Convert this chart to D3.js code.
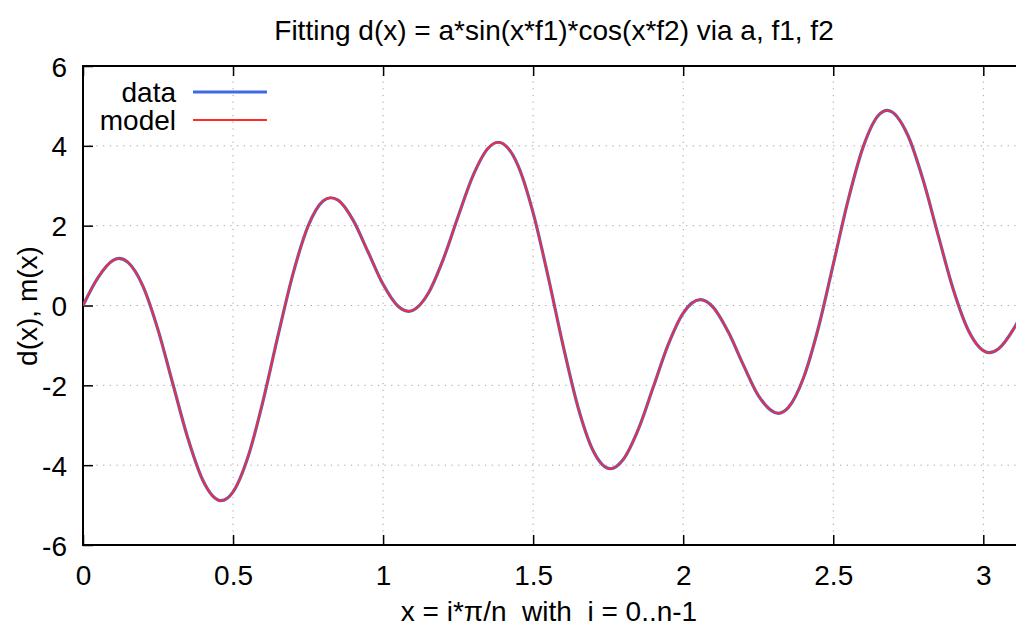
<!DOCTYPE html>
<html>
<head>
<meta charset="utf-8">
<script src="https://cdn.jsdelivr.net/npm/d3@7"></script>
<style>
  body { margin: 0; background: #fff; }
  svg { display: block; font-family: "Liberation Sans", Arial, Helvetica, sans-serif; }
</style>
</head>
<body>
<div id="chart"></div>
<script>
var xValues = [0, 0.05, 0.10, 0.12, 0.15, 0.20, 0.25, 0.30, 0.35, 0.40, 0.46, 0.50,
  0.55, 0.60, 0.65, 0.70, 0.75, 0.80, 0.825, 0.85, 0.90, 0.95, 1.00, 1.05, 1.085,
  1.15, 1.20, 1.25, 1.30, 1.35, 1.383, 1.45, 1.50, 1.55, 1.60, 1.65, 1.70, 1.758,
  1.80, 1.85, 1.90, 1.95, 2.00, 2.057, 2.10, 2.15, 2.20, 2.25, 2.317, 2.35, 2.40,
  2.45, 2.50, 2.55, 2.60, 2.65, 2.68, 2.75, 2.80, 2.85, 2.90, 2.95, 3.02,
  3.05, 3.10, 3.1416];

var dataValues = [0, 0.70, 1.13, 1.18, 1.08, 0.48, -0.61, -1.98, -3.34, -4.39, -4.89, -4.67,
  -3.79, -2.39, -0.75, 0.80, 1.99, 2.62, 2.70, 2.64, 2.14, 1.34, 0.53, -0.02, -0.145,
  0.30, 1.15, 2.23, 3.26, 3.94, 4.09, 3.50, 2.32, 0.72, -1.01, -2.56, -3.64, -4.09,
  -3.86, -3.11, -2.05, -0.98, -0.19, 0.145, -0.045, -0.66, -1.48, -2.25, -2.70, -2.56, -1.83,
  -0.57, 1.03, 2.65, 3.98, 4.76, 4.89, 4.24, 3.13, 1.75, 0.40, -0.62, -1.18,
  -1.09, -0.60, 0];

// fitted model lies on top of the data
var modelValues = [0, 0.70, 1.13, 1.18, 1.08, 0.48, -0.61, -1.98, -3.34, -4.39, -4.89, -4.67,
  -3.79, -2.39, -0.75, 0.80, 1.99, 2.62, 2.70, 2.64, 2.14, 1.34, 0.53, -0.02, -0.145,
  0.30, 1.15, 2.23, 3.26, 3.94, 4.09, 3.50, 2.32, 0.72, -1.01, -2.56, -3.64, -4.09,
  -3.86, -3.11, -2.05, -0.98, -0.19, 0.145, -0.045, -0.66, -1.48, -2.25, -2.70, -2.56, -1.83,
  -0.57, 1.03, 2.65, 3.98, 4.76, 4.89, 4.24, 3.13, 1.75, 0.40, -0.62, -1.18,
  -1.09, -0.60, 0];

var xTicks = [0, 0.5, 1, 1.5, 2, 2.5, 3];
var yTicks = [-6, -4, -2, 0, 2, 4, 6];
var seriesNames = ["data", "model"];

var W = 1016, H = 628;
var plotLeft = 83, plotTop = 66, plotBottom = 545;
var pxPerUnit = 300.1;
var fontSize = "28px";

var x = d3.scaleLinear().domain([0, Math.PI]).range([plotLeft, plotLeft + Math.PI * pxPerUnit]);
var y = d3.scaleLinear().domain([-6, 6]).range([plotBottom, plotTop]);

var svg = d3.select("#chart").append("svg")
  .attr("width", W)
  .attr("height", H);

svg.append("defs").append("clipPath").attr("id", "plotClip")
  .append("rect")
  .attr("x", x(0)).attr("y", y(6))
  .attr("width", x(Math.PI) - x(0)).attr("height", y(-6) - y(6));

// grid (dotted)
var grid = svg.append("g").attr("class", "grid");
grid.selectAll(".vgrid").data(xTicks.slice(1)).enter().append("line")
  .attr("x1", function(d) { return x(d); }).attr("x2", function(d) { return x(d); })
  .attr("y1", y(-6)).attr("y2", y(6))
  .style("stroke", "#a0a0a0").style("stroke-width", 1)
  .style("stroke-dasharray", "1.2,5.5");
grid.selectAll(".hgrid").data(yTicks.slice(1, -1)).enter().append("line")
  .attr("x1", x(0)).attr("x2", x(Math.PI))
  .attr("y1", function(d) { return y(d); }).attr("y2", function(d) { return y(d); })
  .style("stroke", "#a0a0a0").style("stroke-width", 1)
  .style("stroke-dasharray", "1.2,5.5");

// axes with inward ticks
var fmt = function(d) { return String(d); };

var xAxis = svg.append("g")
  .attr("transform", "translate(0," + plotBottom + ")")
  .call(d3.axisBottom(x).tickValues(xTicks).tickFormat(fmt).tickSizeInner(-10).tickSizeOuter(0).tickPadding(20));
var xAxisTop = svg.append("g")
  .attr("transform", "translate(0," + plotTop + ")")
  .call(d3.axisTop(x).tickValues(xTicks).tickFormat("").tickSizeInner(-10).tickSizeOuter(0));
var yAxis = svg.append("g")
  .attr("transform", "translate(" + plotLeft + ",0)")
  .call(d3.axisLeft(y).tickValues(yTicks).tickFormat(fmt).tickSizeInner(-10).tickSizeOuter(0).tickPadding(16));

[xAxis, xAxisTop, yAxis].forEach(function(a) {
  a.select(".domain").remove();
  a.selectAll(".tick line").style("stroke", "#000").style("stroke-width", 1.5);
  a.selectAll(".tick text")
    .style("font-family", "'Liberation Sans', Arial, sans-serif")
    .style("font-size", fontSize)
    .style("fill", "#000");
});
xAxis.selectAll(".tick text").attr("dy", "0.71em");
yAxis.selectAll(".tick text").attr("dy", "0.36em");

// border box
svg.append("rect")
  .attr("x", x(0)).attr("y", y(6))
  .attr("width", x(Math.PI) - x(0)).attr("height", y(-6) - y(6))
  .style("fill", "none").style("stroke", "#000").style("stroke-width", 2);

// curves
var points = function(vals) {
  return xValues.map(function(d, i) { return [d, vals[i]]; });
};
var line = d3.line()
  .x(function(d) { return x(d[0]); })
  .y(function(d) { return y(d[1]); })
  .curve(d3.curveMonotoneX);

var plot = svg.append("g").attr("clip-path", "url(#plotClip)");
plot.append("path")
  .attr("d", line(points(dataValues)))
  .style("fill", "none").style("stroke", "#4169e1").style("stroke-width", 3.2);
plot.append("path")
  .attr("d", line(points(modelValues)))
  .style("fill", "none").style("stroke", "#ff2a2a").style("stroke-width", 1.8);

// legend
var legendColors = ["#4169e1", "#ff2a2a"];
var legendWidths = [3.2, 1.8];
var legend = svg.append("g").selectAll("g").data(seriesNames).enter().append("g")
  .attr("transform", function(d, i) { return "translate(0," + (92 + i * 28) + ")"; });
legend.append("text")
  .attr("x", 176).attr("dy", "0.36em")
  .attr("text-anchor", "end")
  .style("font-size", fontSize)
  .text(function(d) { return d; });
legend.append("line")
  .attr("x1", 193).attr("x2", 267)
  .style("stroke", function(d, i) { return legendColors[i]; })
  .style("stroke-width", function(d, i) { return legendWidths[i]; });

// title and axis labels
svg.append("text")
  .attr("x", 554).attr("y", 40)
  .attr("text-anchor", "middle")
  .style("font-size", fontSize)
  .text("Fitting d(x) = a*sin(x*f1)*cos(x*f2) via a, f1, f2");

svg.append("text")
  .attr("x", 549).attr("y", 621)
  .attr("text-anchor", "middle")
  .attr("xml:space", "preserve")
  .style("font-size", fontSize)
  .text("x = i*\u03c0/n  with  i = 0..n-1");

svg.append("text")
  .attr("transform", "translate(37,306) rotate(-90)")
  .attr("text-anchor", "middle")
  .style("font-size", fontSize)
  .text("d(x), m(x)");
</script>
</body>
</html>
